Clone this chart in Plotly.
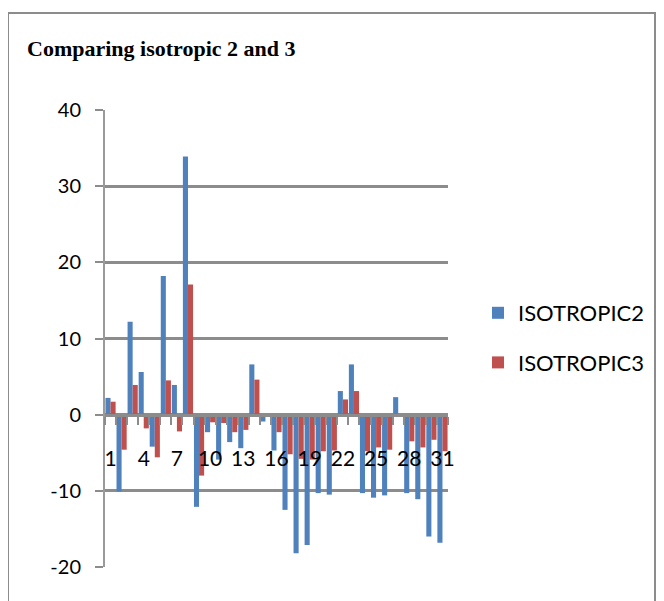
import plotly.graph_objects as go

categories = list(range(1, 32))
tick_labels = ["1", "4", "7", "10", "13", "16", "19", "22", "25", "28", "31"]
tick_positions = [1, 4, 7, 10, 13, 16, 19, 22, 25, 28, 31]
y_tick_values = [-20, -10, 0, 10, 20, 30, 40]
y_tick_labels = ["-20", "-10", "0", "10", "20", "30", "40"]

isotropic2 = [2.2, -10.1, 12.2, 5.6, -4.2, 18.2, 3.9, 33.9, -12.1, -2.3,
              -5.9, -3.6, -4.4, 6.6, -0.9, -4.7, -12.5, -18.2, -17.1, -10.3,
              -10.5, 3.1, 6.6, -10.3, -10.9, -10.6, 2.3, -10.3, -11.1, -16.0,
              -16.8]
isotropic3 = [1.7, -4.6, 3.9, -1.8, -5.6, 4.5, -2.2, 17.1, -8.0, -1.0,
              -1.1, -2.3, -2.0, 4.6, -0.3, -2.3, -5.2, -5.8, -5.9, -4.8,
              -4.7, 2.0, 3.1, -4.8, -4.3, -4.6, -0.2, -3.5, -4.3, -3.3,
              -4.8]

OFF = 8              # page body margin
W, H = 664 - OFF, 601 - OFF
L, R = 105 - OFF, 448 - OFF      # plot area pixels (figure coords)
T, B = 110 - OFF, 567 - OFF

fig = go.Figure()
fig.add_trace(go.Bar(x=categories, y=isotropic2, name="ISOTROPIC2",
                     marker=dict(color="#4F81BD", line=dict(width=0)),
                     legendgroup="a"))
fig.add_trace(go.Bar(x=categories, y=isotropic3, name="ISOTROPIC3",
                     marker=dict(color="#C0504D", line=dict(width=0)),
                     legendgroup="b"))

ymin, ymax = -20, 40
zero_pos = (0 - ymin) / (ymax - ymin)

def px_x(p):
    return (p - OFF - L) / (R - L)

def px_y(p):
    return (B - (p - OFF)) / (B - T)

fig.update_layout(
    width=W, height=H,
    margin=dict(l=L, r=W - R, t=T, b=H - B, autoexpand=False),
    paper_bgcolor="white", plot_bgcolor="white",
    font=dict(family="Lato", color="black", size=20),
    barmode="group", bargap=0.08, bargroupgap=0.0,
    title=dict(text="<b>Comparing isotropic 2 and 3</b>",
               font=dict(family="Liberation Serif", size=22, color="black"),
               xref="container", x=(27 - OFF) / W, xanchor="left",
               yref="container", y=1 - (48 - OFF) / H, yanchor="middle"),
    legend=dict(x=px_x(478), xanchor="left", y=px_y(292), yanchor="top",
                font=dict(size=22), tracegroupgap=18,
                bgcolor="rgba(0,0,0,0)"),
    xaxis=dict(range=[0.5, 31.5], anchor="free", position=zero_pos,
               tickvals=tick_positions, ticktext=tick_labels,
               ticks="outside", ticklen=8, tickcolor="rgba(0,0,0,0)",
               ticklabelstandoff=16, tickfont=dict(size=21),
               showgrid=False, zeroline=False,
               showline=True, linecolor="#8C8C8C", linewidth=3,
               minor=dict(tickvals=[c + 0.5 for c in [0] + categories],
                          ticks="outside", ticklen=8, tickcolor="#8C8C8C",
                          tickwidth=2, showgrid=False)),
    yaxis=dict(range=[ymin, ymax],
               tickvals=y_tick_values, ticktext=y_tick_labels,
               showgrid=True, gridcolor="#8C8C8C", gridwidth=3,
               zeroline=False,
               showline=True, linecolor="#9A9A9A", linewidth=2,
               ticks="outside", ticklen=8, tickcolor="#8C8C8C", tickwidth=2,
               ticklabelstandoff=10, tickfont=dict(size=20)),
    shapes=[dict(type="rect", xref="paper", yref="paper",
                 x0=px_x(8), x1=px_x(655), y0=px_y(640), y1=px_y(13),
                 line=dict(color="#8C8C8C", width=2), fillcolor="rgba(0,0,0,0)",
                 layer="below")],
)

fig.write_html("out.html")
